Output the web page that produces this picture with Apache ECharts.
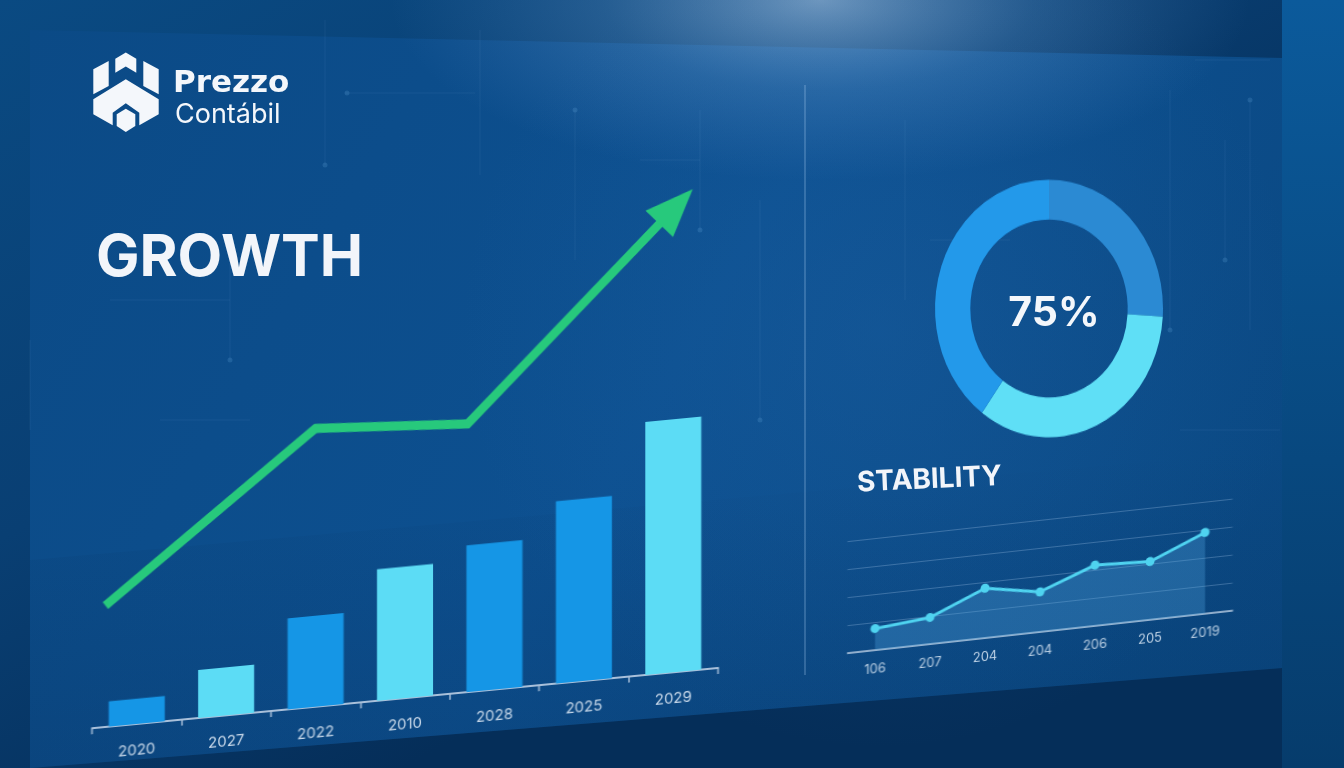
<!DOCTYPE html>
<html><head><meta charset="utf-8">
<script src="https://cdn.jsdelivr.net/npm/echarts@6/dist/echarts.min.js"></script>
<style>
html,body{margin:0;padding:0;width:1344px;height:768px;overflow:hidden;background:#0a4378}
.layer{position:absolute;left:0;top:0;width:1344px;height:768px}
#bars{transform-origin:105px 727px;transform:skewY(-5.5deg)}
#stab{transform-origin:858px 652px;transform:skewY(-6.3deg)}
#donut{transform-origin:1049px 308.5px;transform:scaleY(1.13)}
</style></head><body>
<div id="bg" class="layer"></div>
<div id="bars" class="layer"></div>
<div id="stab" class="layer"></div>
<div id="donut" class="layer"></div>
<script>
// ---------- data ----------
const barCategories = ['2020', '2027', '2022', '2010', '2028', '2025', '2029'];
const barValues = [10, 19, 36, 52, 58, 72, 100];
const trendX = [-0.35, 2.0, 3.7, 6.03];          // positions in category units
const trendValues = [48, 110, 106, 184];
const donutValues = [26, 34, 40];
const donutLabel = '75%';
const stabilityCategories = ['106', '207', '204', '204', '206', '205', '2019'];
const stabilityValues = [15.4, 19, 35.5, 28.6, 43.4, 41.6, 58];
const growthTitle = 'GROWTH';
const stabilityTitle = 'STABILITY';
const brandName = 'Prezzo';
const brandSub = 'Contábil';

// ---------- styles ----------
const barPalette = ['#1596e6', '#5cdcf5'];
const barShade = [0, 1, 0, 1, 0, 0, 1];
const donutColors = ['#2b8ad3', '#5fdff6', '#2399ea'];
const FONT = 'Inter, "Noto Sans", sans-serif';

// ---------- background / decorations ----------
const bg = echarts.init(document.getElementById('bg'), null, {renderer: 'canvas'});
const faint = 'rgba(140,185,230,0.09)';
const circuit = [
  [[345,93],[475,93]], [[325,20],[325,165]], [[480,30],[480,175]],
  [[575,110],[575,260]], [[640,160],[700,160]], [[700,110],[700,230]],
  [[110,300],[230,300]], [[230,250],[230,360]], [[30,340],[30,430]],
  [[160,420],[250,420]], [[905,120],[905,300]], [[930,240],[1010,240]],
  [[1170,90],[1170,330]], [[1195,60],[1270,60]], [[1250,100],[1250,330]],
  [[1225,140],[1225,260]], [[1180,430],[1280,430]], [[760,200],[760,420]]
];
const circuitEls = circuit.map(p => ({
  type: 'polyline', shape: {points: p}, style: {stroke: faint, lineWidth: 1}, silent: true
}));
const dots = [[347,93],[325,165],[575,110],[700,230],[230,360],[1170,330],[1250,100],[1225,260],[760,420]].map(c => ({
  type: 'circle', shape: {cx: c[0], cy: c[1], r: 2.5}, style: {fill: 'rgba(120,190,240,0.18)'}, silent: true
}));

const logo = [
  [[115.3,58.7],[125.8,52.5],[136.3,58.7],[136.3,72.7],[125.8,66.5],[115.3,72.7]],
  [[93.3,69.3],[108.7,61],[108.7,86],[93.3,94.3]],
  [[158.7,69.3],[143.3,61],[143.3,86],[158.7,94.3]],
  [[93.3,99.3],[125.8,79.3],[158.7,99.3],[158.7,114.3],[139.3,125.3],[139.3,112.7],[125.8,103.3],[112.7,112.7],[112.7,125.3],[93.3,114.3]],
  [[116.7,114.3],[125.8,108.7],[135.3,114.3],[135.3,126],[125.8,132],[116.7,126]]
].map(p => ({type: 'polygon', shape: {points: p}, style: {fill: '#f4f7fb'}, silent: true}));

bg.setOption({
  animation: false,
  graphic: [
    {type: 'rect', shape: {x: 0, y: 0, width: 1344, height: 768}, silent: true,
     style: {fill: new echarts.graphic.LinearGradient(0, 0, 0.3, 1, [
       {offset: 0, color: '#0a4a82'}, {offset: 0.55, color: '#093f73'}, {offset: 1, color: '#052e59'}])}},
    {type: 'rect', shape: {x: 1282, y: 0, width: 62, height: 768}, silent: true,
     style: {fill: new echarts.graphic.LinearGradient(0, 0, 0, 1, [
       {offset: 0, color: '#0b5a9b'}, {offset: 1, color: '#063c6c'}])}},
    {type: 'polygon', shape: {points: [[30,30],[1282,58],[1282,668],[30,768]]}, silent: true,
     style: {fill: new echarts.graphic.LinearGradient(0, 0, 1, 1, [
       {offset: 0, color: '#0b4a86'}, {offset: 0.5, color: '#0d5090'}, {offset: 1, color: '#0a4780'}])}},
    {type: 'polygon', shape: {points: [[30,560],[1282,450],[1282,668],[30,768]]}, silent: true,
     style: {fill: new echarts.graphic.LinearGradient(0, 0, 0, 1, [
       {offset: 0, color: 'rgba(5,40,80,0)'}, {offset: 1, color: 'rgba(5,40,80,0.22)'}])}},
    {type: 'circle', shape: {cx: 820, cy: 0, r: 430}, scaleY: 0.42, originX: 820, originY: 0, silent: true,
     style: {fill: new echarts.graphic.RadialGradient(0.5, 0.5, 0.5, [
       {offset: 0, color: 'rgba(175,205,235,0.62)'}, {offset: 0.5, color: 'rgba(120,170,220,0.25)'},
       {offset: 1, color: 'rgba(100,150,210,0)'}])}},
    {type: 'circle', shape: {cx: 880, cy: 330, r: 420}, silent: true,
     style: {fill: new echarts.graphic.RadialGradient(0.5, 0.5, 0.5, [
       {offset: 0, color: 'rgba(40,110,180,0.22)'}, {offset: 1, color: 'rgba(40,110,180,0)'}])}},
    ...circuitEls, ...dots,
    {type: 'line', shape: {x1: 805, y1: 85, x2: 805, y2: 675}, silent: true,
     style: {stroke: 'rgba(170,205,240,0.5)', lineWidth: 1}},
    ...logo,
    {type: 'text', x: 173, y: 84, silent: true,
     style: {text: brandName, font: 'bold 31px "DejaVu Sans", sans-serif', fill: '#f4f7fb', textVerticalAlign: 'middle'}},
    {type: 'text', x: 175, y: 115, silent: true,
     style: {text: brandSub, font: '400 27px ' + FONT, fill: '#f4f7fb', textVerticalAlign: 'middle'}},
    {type: 'text', x: 96, y: 259, silent: true,
     style: {text: growthTitle, font: '700 58px ' + FONT, fill: '#f2f5fa', textVerticalAlign: 'middle'}},
    {type: 'text', x: 857, y: 483, rotation: 0.045, silent: true,
     style: {text: stabilityTitle, font: '700 28px ' + FONT, fill: '#f2f5fa', textVerticalAlign: 'middle'}},
    {type: 'text', x: 1054, y: 314, silent: true,
     style: {text: donutLabel, font: '700 41px ' + FONT, fill: '#f4f7fb', textAlign: 'center', textVerticalAlign: 'middle'}}
  ]
});

// ---------- bars + trend arrow ----------
const bars = echarts.init(document.getElementById('bars'), null, {renderer: 'canvas'});
const trendData = () => trendX.map((x, i) => [x, trendValues[i]]);
bars.setOption({
  animation: false,
  grid: {left: 92, right: 626, top: 221, bottom: 41},
  xAxis: [
    {type: 'category', data: barCategories,
     axisLine: {lineStyle: {color: '#a9c0da', width: 2}},
     axisTick: {show: true, length: 6, lineStyle: {color: '#a9c0da', width: 1.5}},
     axisLabel: {color: '#c9d9ea', fontSize: 15, fontFamily: FONT, margin: 19}},
    {type: 'value', min: -0.5, max: 6.5, show: false}
  ],
  yAxis: {type: 'value', min: 0, max: 200, show: false},
  series: [
    {type: 'bar', data: barValues, barWidth: 56, silent: true,
     itemStyle: {color: p => barPalette[barShade[p.dataIndex]]}},
    {type: 'line', xAxisIndex: 1, data: trendData(), symbol: 'none', clip: false, silent: true,
     lineStyle: {color: '#27c97c', width: 9, join: 'miter', cap: 'butt'}}
  ]
});
// arrow head oriented along the last segment
(function () {
  const n = trendX.length;
  const a = bars.convertToPixel({xAxisIndex: 1, yAxisIndex: 0}, [trendX[n - 2], trendValues[n - 2]]);
  const b = bars.convertToPixel({xAxisIndex: 1, yAxisIndex: 0}, [trendX[n - 1], trendValues[n - 1]]);
  const ang = Math.atan2(b[0] - a[0], a[1] - b[1]) * 180 / Math.PI;
  const data = trendData().map((d, i) => i === n - 1
    ? {value: d, symbol: 'triangle', symbolSize: [40, 46], symbolRotate: -ang, itemStyle: {color: '#27c97c'}}
    : d);
  bars.setOption({series: [{}, {data: data}]});
})();

// ---------- stability line ----------
const stab = echarts.init(document.getElementById('stab'), null, {renderer: 'canvas'});
stab.setOption({
  animation: false,
  grid: {left: 847.5, right: 111.5, top: 540, bottom: 116},
  xAxis: {type: 'category', data: stabilityCategories,
    axisLine: {lineStyle: {color: '#b5c9df', width: 1.5}},
    axisTick: {show: false},
    axisLabel: {color: '#bcd0e4', fontSize: 13, fontFamily: FONT, margin: 13}},
  yAxis: {type: 'value', min: 0, max: 80, interval: 20, axisLabel: {show: false},
    axisLine: {show: false}, axisTick: {show: false},
    splitLine: {lineStyle: {color: 'rgba(165,200,235,0.3)', width: 1}}},
  series: [{type: 'line', data: stabilityValues, symbol: 'circle', symbolSize: 9, silent: true,
    lineStyle: {color: '#4fd3f0', width: 3}, itemStyle: {color: '#4fd3f0'},
    areaStyle: {color: 'rgba(80,165,225,0.45)'}}]
});

// ---------- donut ----------
const donut = echarts.init(document.getElementById('donut'), null, {renderer: 'canvas'});
donut.setOption({
  animation: false,
  series: [{type: 'pie', center: [1049, 308.5], radius: [78.7, 114], startAngle: 90, clockwise: true,
    silent: true, label: {show: false}, labelLine: {show: false},
    data: donutValues.map((v, i) => ({value: v, itemStyle: {color: donutColors[i]}}))}]
});
</script>
</body></html>
